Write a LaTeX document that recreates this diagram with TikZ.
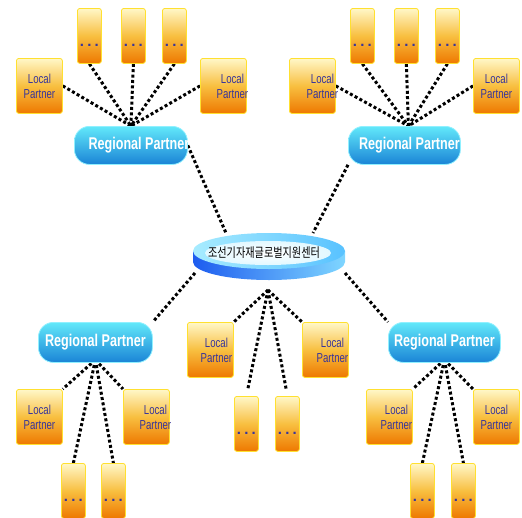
\documentclass[tikz,border=0pt]{standalone}
\usepackage{fontspec}
\setmainfont{Liberation Sans}
\newfontfamily\lpfont[FakeStretch=0.74]{Liberation Sans}
\newfontfamily\rpfont[FakeStretch=0.74]{Liberation Sans}
\newfontfamily\krfont[FakeStretch=0.78]{Noto Sans CJK KR}
\usetikzlibrary{shapes.geometric,backgrounds}
\definecolor{lpTop}{HTML}{FFF7C8}
\definecolor{lpMid}{HTML}{F8BF40}
\definecolor{lpBot}{HTML}{EE7800}
\definecolor{lpBorder}{HTML}{FFE030}
\definecolor{lpText}{HTML}{38359A}
\definecolor{rpTop}{HTML}{62E8FA}
\definecolor{rpBot}{HTML}{1A84D6}
\definecolor{rpBorder}{HTML}{90F0FF}
\definecolor{hubL}{HTML}{1D5CEF}
\definecolor{hubR}{HTML}{7FD6FF}
\definecolor{hubTopL}{HTML}{A8ECFF}
\definecolor{hubTopR}{HTML}{58C2FF}
\definecolor{hubIn}{HTML}{E2F8FF}
\tikzset{
  boxbase/.style={draw=lpBorder, line width=0.8pt, rounded corners=2.5pt,
    top color=lpTop, bottom color=lpBot, middle color=lpMid,
    inner sep=0pt, anchor=north west},
  lpt/.style={font=\lpfont\fontsize{13}{15}\selectfont, text=lpText, align=center, inner sep=0pt},
  lp/.style={boxbase, minimum width=46pt, minimum height=55pt,
    label={[lpt,xshift=#1]center:Local\\Partner}},
  lp/.default=0pt,
  dotst/.style={font=\bfseries\fontsize{15}{15}\selectfont, text=lpText, inner sep=0pt},
  tb/.style={boxbase, minimum width=24pt, minimum height=55pt,
    label={[dotst,yshift=-9pt]center:.\hspace{3.2pt}.\hspace{3.2pt}.}},
  rpt/.style={font=\rpfont\bfseries\fontsize{17}{17}\selectfont, text=white, inner sep=0pt},
  rp/.style={draw=rpBorder, line width=0.8pt, rounded corners=15pt,
    top color=rpTop, bottom color=rpBot, minimum height=38pt, inner sep=0pt, anchor=north west,
    label={[rpt,xshift=#1]center:Regional Partner}},
  rp/.default=0pt,
  conn/.style={line width=3pt, dash pattern=on 3pt off 2.4pt, black},
}
\begin{document}
\begin{tikzpicture}[x=1pt,y=-1pt]
\path[use as bounding box] (0,0) rectangle (522,517);
% top-left group
\node[lp] (lp1a) at (16,58) {};
\node[tb] (t1a) at (77,8) {};
\node[tb] (t1b) at (121,8) {};
\node[tb] (t1c) at (162,8) {};
\node[lp=9pt] (lp1b) at (200,58) {};
\node[rp=8pt, minimum width=113pt] (rp1) at (74,126) {};
% top-right group
\node[lp=10pt] (lp2a) at (289,58) {};
\node[tb] (t2a) at (350,8) {};
\node[tb] (t2b) at (394,8) {};
\node[tb] (t2c) at (435,8) {};
\node[lp] (lp2b) at (473,58) {};
\node[rp=5pt, minimum width=112pt] (rp2) at (348,126) {};
% center boxes
\node[lp=6pt] (lpc1) at (187,322) {};
\node[lp=7pt] (lpc2) at (302,322) {};
\node[tb] (tc1) at (234,396) {};
\node[tb] (tc2) at (275,396) {};
% bottom-left group
\node[rp, minimum width=114pt, minimum height=40pt] (rp3) at (38,322) {};
\node[lp] (lp3a) at (16,389) {};
\node[lp=9pt] (lp3b) at (123,389) {};
\node[tb] (t3a) at (61,463) {};
\node[tb] (t3b) at (101,463) {};
% bottom-right group
\node[rp, minimum width=112pt, minimum height=40pt] (rp4) at (388,322) {};
\node[lp=7pt] (lp4a) at (366,389) {};
\node[lp] (lp4b) at (473,389) {};
\node[tb] (t4a) at (410,463) {};
\node[tb] (t4b) at (451,463) {};
% hub
\shade[left color=hubL, right color=hubR] (193,251) -- (193,262)
  arc[start angle=180, end angle=360, x radius=76pt, y radius=18pt] -- (345,251) -- cycle;
\node[ellipse, minimum width=152pt, minimum height=36pt, inner sep=0pt,
  left color=hubTopL, right color=hubTopR] (hub) at (269,251) {};
\node[ellipse, minimum width=126pt, minimum height=24pt, inner sep=0pt,
  inner color=white, outer color=hubIn] (hubin) at (268,253) {};
\node[font=\krfont\fontsize{13}{13}\selectfont, inner sep=0pt] (hubtxt) at (264,253) {조선기자재글로벌지원센터};
\coordinate (hubA) at (226,233);
\coordinate (hubB) at (313,233);
\coordinate (hubC) at (195,273);
\coordinate (hubD) at (345,273);
\coordinate (hubE) at (268,290);
\begin{scope}[on background layer]
  \foreach \s in {lp1a.east, t1a.south, t1b.south, t1c.south, lp1b.west}
    \draw[conn] (\s) -- (rp1.north);
  \foreach \s in {lp2a.east, t2a.south, t2b.south, t2c.south, lp2b.west}
    \draw[conn] (\s) -- ([xshift=4pt]rp2.north);
  \draw[conn] (rp1.east) -- (hubA);
  \draw[conn] (rp2.south west) -- (hubB);
  \draw[conn] (hubC) -- (rp3.north east);
  \draw[conn] (hubD) -- (rp4.north west);
  \draw[conn] (hubE) -- (lpc1.north east);
  \draw[conn] (hubE) -- (lpc2.north west);
  \draw[conn, shorten >=7pt] (hubE) -- (tc1.north);
  \draw[conn, shorten >=7pt] (hubE) -- (tc2.north);
  \foreach \t/\a in {lp3a/north east, t3a/north, t3b/north, lp3b/north west}
    \draw[conn] ([yshift=3pt]rp3.south) -- (\t.\a);
  \foreach \t/\a in {lp4a/north east, t4a/north, t4b/north, lp4b/north west}
    \draw[conn] ([yshift=3pt]rp4.south) -- (\t.\a);
\end{scope}
\end{tikzpicture}
\end{document}
